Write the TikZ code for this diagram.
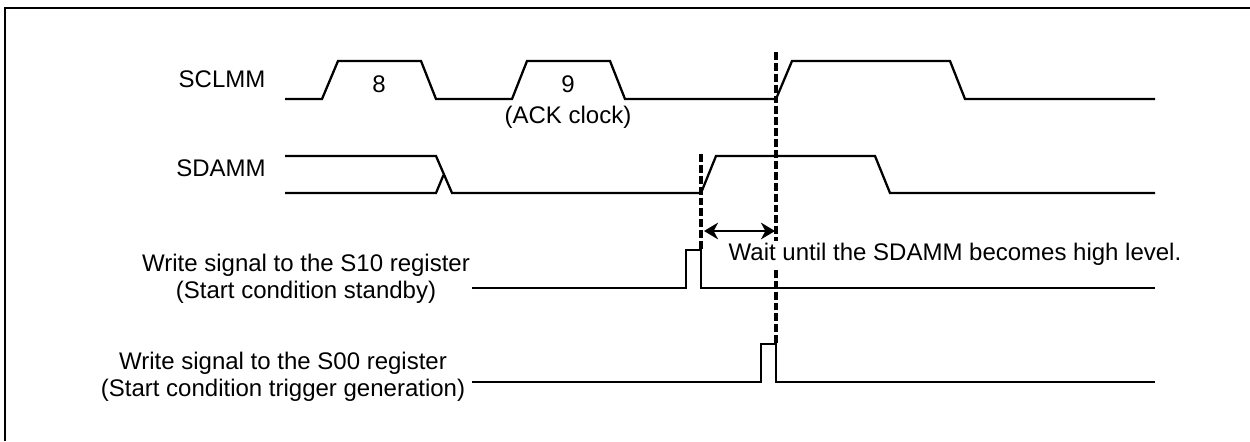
\documentclass[tikz,border=0pt]{standalone}
\usepackage{fontspec}
\setmainfont{Liberation Sans}
\usetikzlibrary{arrows.meta}

\begin{document}
\begin{tikzpicture}[x=0.02cm,y=-0.02cm, every node/.style={font=\fontsize{13.66}{15.2}\selectfont,align=center,inner sep=0pt},
    signal/.style={line width=1.3pt,line join=miter},
    marker/.style={line width=1.8pt,dash pattern=on 4.5pt off 1.7pt}]
        \useasboundingbox (0,0) rectangle (1250,441);
        % Frame
        \draw[line width=1.3pt] (5,441) -- (5,8) -- (1250,8);
        % Bus lines
        \draw[signal] (285,99) -- (322,99) -- (338,61) -- (421,61) -- (436,99) -- (512,99) -- (527,61) -- (610,61) -- (625,99) -- (776,99) -- (792,61) -- (950,61) -- (965,99) -- (1155,99);
        \draw[signal] (285,156) -- (436,156) -- (452,193) -- (701,193) -- (716,156) -- (875,156) -- (890,193) -- (1155,193);
        \draw[signal] (285,193) -- (436,193) -- (443.5,175);
        % Register write pulses
        \draw[signal] (472,288) -- (686,288) -- (686,250) -- (701,250) -- (701,288) -- (1155,288);
        \draw[signal] (472,382) -- (761,382) -- (761,344) -- (776,344) -- (776,382) -- (1155,382);
        % Markers
        \coordinate (sdatop) at (701,154);
        \coordinate (sdabot) at (701,250);
        \coordinate (scltop) at (776,52);
        \coordinate (sclbot) at (776,344);
        \draw[marker] (sdatop) -- (sdabot);
        \draw[marker] (scltop) -- (sclbot);
        % Wait time
        \coordinate (waitl) at (704,231);
        \coordinate (waitr) at (775,231);
        \draw[line width=1.1pt,{Stealth[length=8pt,width=9.5pt,inset=2.5pt]}-{Stealth[length=8pt,width=9.5pt,inset=2.5pt]}] (waitl) -- (waitr);
        % Labels
        \node (sclmm) at (222,79) {SCLMM};
        \node (sdamm) at (221,168) {SDAMM};
        \node (clk8) at (379,84) {8};
        \node (clk9) at (568,84) {9};
        \node (ack) at (568,117) {(ACK clock)};
        \node[fill=white,inner ysep=1pt] (wait) at (955,254) {Wait until the SDAMM becomes high level.};
        \node (wrs10) at (306,279) {Write signal to the S10 register\\(Start condition standby)};
        \node (wrs00) at (283,377) {Write signal to the S00 register\\(Start condition trigger generation)};
      \end{tikzpicture}
\end{document}
